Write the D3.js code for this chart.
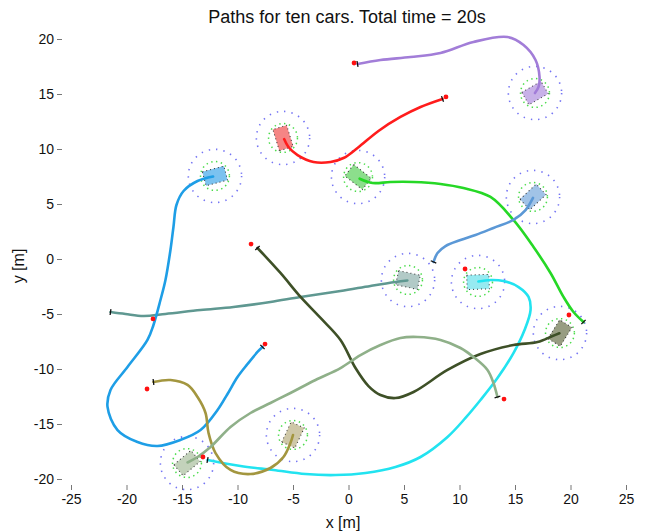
<!DOCTYPE html>
<html>
<head>
<meta charset="utf-8">
<script src="https://cdn.jsdelivr.net/npm/d3@7.9.0/dist/d3.min.js"></script>
<style>
  body { margin: 0; background: #fff; }
  svg { display: block; font-family: "Liberation Sans", Arial, sans-serif; }
</style>
</head>
<body>
<svg id="chart" width="649" height="532"></svg>
<script>
// axis ticks
const xTicks = [-25, -20, -15, -10, -5, 0, 5, 10, 15, 20, 25];
const yTicks = [-20, -15, -10, -5, 0, 5, 10, 15, 20];

const carNames = ['purple', 'red', 'green', 'steel', 'teal', 'cyan', 'darkolive', 'blue', 'khaki', 'sage'];

// paths [x, y] in metres, from start to final position
const pathPurple = [[0.81,17.73],[2.88,18.09],[5.59,18.36],[8.29,18.73],[11.26,19.73],[14.32,20.18],[15.77,19.45],[16.85,18.09],[17.21,16.55],[17.12,15.64],[16.8,15.09]];
const pathRed = [[8.47,14.55],[6.49,13.82],[4.68,12.91],[2.70,11.64],[0.81,10.09],[-0.45,9.18],[-1.62,8.82],[-3.15,8.82],[-4.59,9.45],[-5.41,10.18],[-5.8,10.9]];
const pathGreen = [[21.17,-5.73],[20.27,-4.82],[19.37,-3.45],[18.20,-1.27],[16.67,1.09],[14.86,3.55],[12.79,5.64],[10.36,6.45],[8.29,6.82],[5.86,7.0],[3.78,7.0],[2.16,6.91],[1.0,7.3]];
const pathSteel = [[7.66,-0.27],[8.02,0.55],[8.74,1.18],[10.09,1.73],[11.44,2.18],[13.06,2.82],[14.86,3.55],[15.95,4.45],[16.62,5.55]];
const pathTeal = [[-21.44,-4.82],[-20.09,-5.0],[-18.47,-5.18],[-16.49,-5.0],[-13.33,-4.64],[-10.36,-4.36],[-7.03,-3.91],[-4.32,-3.45],[-0.72,-2.91],[1.98,-2.45],[4.23,-2.09],[5.3,-1.95]];
const pathCyan = [[-12.70,-18.27],[-9.73,-18.82],[-6.76,-19.18],[-3.87,-19.55],[-1.17,-19.64],[1.53,-19.45],[4.23,-18.91],[6.49,-18.0],[8.92,-16.18],[10.54,-14.45],[11.89,-12.82],[13.42,-10.82],[14.86,-8.55],[15.86,-6.45],[16.40,-4.64],[16.22,-3.45],[15.32,-2.55],[13.96,-2.0],[12.79,-1.91],[11.7,-2.05]];
const pathDarkOlive = [[-8.20,1.0],[-6.13,-1.27],[-4.32,-3.45],[-2.52,-5.36],[-0.72,-7.36],[0.63,-9.91],[1.80,-11.55],[2.88,-12.36],[4.23,-12.64],[5.86,-12.09],[8.92,-10.09],[11.89,-8.64],[14.86,-7.82],[17.03,-7.55],[18.38,-7.0],[19.0,-6.75]];
const pathBlue = [[-7.75,-8.0],[-8.20,-8.45],[-9.10,-9.55],[-10.0,-10.73],[-10.90,-12.27],[-11.80,-13.73],[-13.33,-15.55],[-15.14,-16.45],[-17.21,-17.0],[-19.01,-16.64],[-20.81,-15.55],[-21.71,-13.45],[-21.44,-11.91],[-19.91,-9.82],[-18.11,-7.36],[-17.57,-6.0],[-16.94,-3.73],[-16.49,-1.91],[-16.04,0.82],[-15.77,2.91],[-15.50,4.91],[-14.86,6.18],[-13.60,7.09],[-12.2,7.5]];
const pathKhaki = [[-17.57,-11.18],[-16.04,-11.0],[-14.50,-11.45],[-13.60,-12.55],[-12.88,-14.0],[-12.61,-15.82],[-11.98,-17.64],[-10.63,-19.18],[-8.83,-19.55],[-7.03,-19.0],[-5.86,-18.0],[-5.23,-16.73],[-5.0,-16.0]];
const pathSage = [[13.42,-12.55],[13.06,-11.27],[12.52,-10.09],[11.26,-8.91],[10.09,-8.09],[8.29,-7.36],[6.22,-7.09],[4.68,-7.18],[2.88,-7.82],[1.08,-8.73],[-0.72,-9.91],[-2.97,-11.0],[-5.23,-12.18],[-7.03,-13.09],[-8.83,-14.0],[-10.63,-15.27],[-12.43,-17.09],[-13.60,-18.0],[-14.5,-18.5]];
const carPaths = [pathPurple, pathRed, pathGreen, pathSteel, pathTeal, pathCyan, pathDarkOlive, pathBlue, pathKhaki, pathSage];

// final car poses (metres, degrees)
const carX = [16.8, -5.9, 0.86, 16.62, 5.36, 11.67, 19.05, -12.03, -5.0, -14.55];
const carY = [15.09, 11.0, 7.45, 5.64, -1.91, -2.09, -6.73, 7.55, -16.0, -18.55];
const carHeading = [30, 107, -38, 43, -12, 2, 58, 15, 65, 40];

// start markers (metres)
const startX = [0.5, 8.78, 19.86, 10.5, -17.61, -13.11, -8.78, -7.52, -18.15, 14.01];
const startY = [17.82, 14.73, -5.09, -0.91, -5.45, -18.0, 1.36, -7.73, -11.82, -12.73];

// styling
const lineColors = ['#a27dd8', '#ff1c1c', '#26d826', '#5b98d6', '#5f9891', '#22e3f0', '#3e5027', '#1e9ee6', '#a3963f', '#8fb089'];
const bodyColors = ['#c2a8e6', '#f47878', '#80da80', '#97bce4', '#aac4c1', '#8be8f0', '#8d9274', '#6dbbee', '#c9c19d', '#bccdb4'];
const carLength = 2.0, carWidth = 1.3, outerR = 2.4, innerR = 1.3;

const svg = d3.select('#chart');
const x = d3.scaleLinear().domain([-25, 25]).range([71, 626]);
const y = d3.scaleLinear().domain([-20, 20]).range([479, 39]);
const px = d => x(d) - x(0);

// title and axis labels
svg.append('text')
  .attr('x', 347).attr('y', 23)
  .attr('text-anchor', 'middle')
  .attr('font-size', 18)
  .attr('fill', '#111')
  .text('Paths for ten cars. Total time = 20s');

svg.append('text')
  .attr('x', 343).attr('y', 528)
  .attr('text-anchor', 'middle')
  .attr('font-size', 16)
  .attr('fill', '#111')
  .text('x [m]');

svg.append('text')
  .attr('transform', 'translate(24,266) rotate(-90)')
  .attr('text-anchor', 'middle')
  .attr('font-size', 16)
  .attr('fill', '#111')
  .text('y [m]');

const yAxis = svg.append('g')
  .attr('transform', 'translate(62,0)')
  .call(d3.axisLeft(y).tickValues(yTicks).tickSize(5).tickPadding(3).tickFormat(d => String(d)));
const xAxis = svg.append('g')
  .attr('transform', 'translate(0,485)')
  .call(d3.axisBottom(x).tickValues(xTicks).tickSize(5).tickPadding(4).tickFormat(d => String(d)));
[xAxis, yAxis].forEach(g => {
  g.select('.domain').remove();
  g.selectAll('line').attr('stroke', '#777');
  g.selectAll('text').attr('font-size', 14).attr('fill', '#111')
    .attr('font-family', '"Liberation Sans", Arial, sans-serif');
});

// safety circles around final positions
const plot = svg.append('g');
carNames.forEach((name, i) => {
  plot.append('circle')
    .attr('cx', x(carX[i])).attr('cy', y(carY[i]))
    .attr('r', px(outerR))
    .attr('fill', 'none')
    .attr('stroke', '#4646f0')
    .attr('stroke-opacity', 0.75)
    .attr('stroke-width', 1.6)
    .attr('stroke-dasharray', '1.4 6');
  plot.append('circle')
    .attr('cx', x(carX[i])).attr('cy', y(carY[i]))
    .attr('r', px(innerR))
    .attr('fill', 'none')
    .attr('stroke', '#2ad62a')
    .attr('stroke-opacity', 0.85)
    .attr('stroke-width', 1.5)
    .attr('stroke-dasharray', '1.4 3.5');
});

// car bodies
carNames.forEach((name, i) => {
  const g = plot.append('g')
    .attr('transform', `translate(${x(carX[i])},${y(carY[i])}) rotate(${-carHeading[i]})`);
  g.append('rect')
    .attr('x', -px(carLength) / 2).attr('y', -px(carWidth) / 2)
    .attr('width', px(carLength)).attr('height', px(carWidth))
    .attr('fill', bodyColors[i])
    .attr('fill-opacity', 0.9)
    .attr('stroke', '#333')
    .attr('stroke-width', 1)
    .attr('stroke-dasharray', '1 3');
});

// paths
const line = d3.line()
  .x(d => x(d[0]))
  .y(d => y(d[1]))
  .curve(d3.curveCatmullRom.alpha(0.5));

carPaths.forEach((path, i) => {
  plot.append('path')
    .attr('d', line(path))
    .attr('fill', 'none')
    .attr('stroke', lineColors[i])
    .attr('stroke-width', 2.6)
    .attr('stroke-linecap', 'round');
});

// start markers: small black mark at path start, red dot
carPaths.forEach((path, i) => {
  const [a, b] = path;
  const ang = Math.atan2(y(b[1]) - y(a[1]), x(b[0]) - x(a[0])) * 180 / Math.PI;
  plot.append('line')
    .attr('transform', `translate(${x(a[0])},${y(a[1])}) rotate(${ang})`)
    .attr('x1', 0).attr('y1', -3).attr('x2', 0).attr('y2', 3)
    .attr('stroke', '#111')
    .attr('stroke-width', 1.3);
  plot.append('circle')
    .attr('cx', x(startX[i])).attr('cy', y(startY[i]))
    .attr('r', 2.4)
    .attr('fill', '#ff1010');
});
</script>
</body>
</html>
